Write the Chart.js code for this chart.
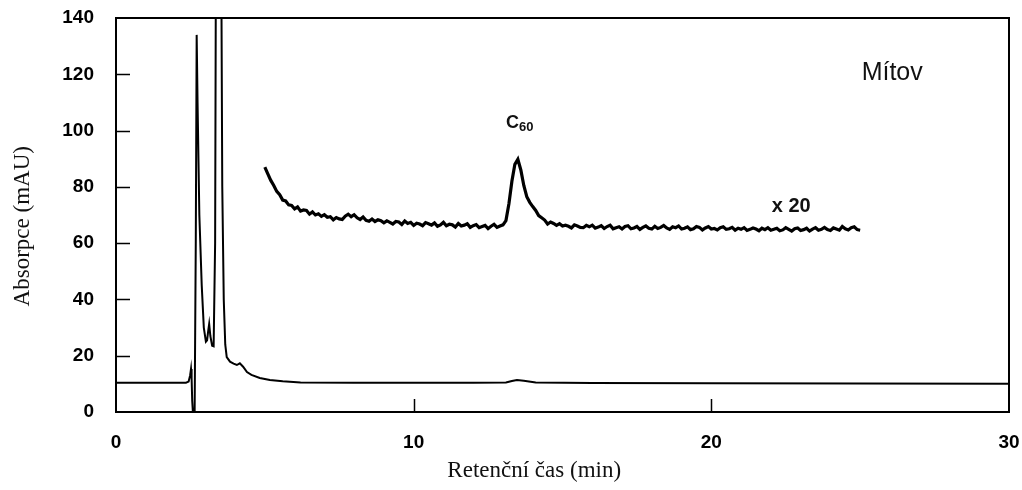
<!DOCTYPE html>
<html>
<head>
<meta charset="utf-8">
<script src="https://cdn.jsdelivr.net/npm/chart.js@4.4.1/dist/chart.umd.min.js"></script>
<style>
  html, body { margin: 0; padding: 0; background: #fff; }
  #wrap { width: 1022px; height: 490px; }
</style>
</head>
<body>
<div id="wrap"><canvas id="chart" width="1022" height="490"></canvas></div>
<script>
// Main chromatogram (absolute scale)
const mainTime = [0, 2.35, 2.44, 2.49, 2.52, 2.54, 2.56, 2.6, 2.64, 2.68, 2.71, 2.74, 2.8, 2.88, 2.95,
    3.02, 3.06, 3.1, 3.13, 3.17, 3.23, 3.28, 3.33, 3.38, 3.45, 3.52, 3.57, 3.62, 3.67, 3.72, 3.83,
    3.95, 4.06, 4.16, 4.27, 4.4, 4.55, 4.83, 5.17, 5.6, 6.2, 8, 10, 12, 13.1, 13.3, 13.47, 13.7,
    14.1, 16, 20, 25, 30];
const mainAbs = [10.4, 10.4, 10.8, 13, 15.3, 12, 4, -3, -3, 60, 134, 110, 70, 45, 30,
    25, 25.5, 29, 31.3, 27, 23.5, 23.3, 60, 250, 250, 200, 80, 40, 24, 19.5, 17.9,
    17.2, 16.7, 17.3, 16.1, 14.2, 13.2, 12.1, 11.4, 10.9, 10.5, 10.4, 10.4, 10.4, 10.5, 11.0, 11.4, 11.1,
    10.5, 10.3, 10.2, 10.1, 10.0];

// Zoomed trace (x 20), 5.0 .. 25.0 min every 0.1 min
const zoomStart = 5.0;
const zoomStep = 0.1;
const zoomAbs = [
    87, 84.6, 82.3, 80.5, 78.4, 77.2, 75.3, 75.0, 73.6, 73.4, 72.2,
    72.9, 71.4, 71.8, 71.6, 70.3, 71.1, 70.0, 70.4, 69.5, 70.1,
    69.2, 69.4, 68.3, 69.1, 68.6, 68.4, 69.6, 70.3, 69.4, 70.1,
    69.0, 68.4, 69.3, 68.1, 67.8, 68.6, 67.7, 68.3, 68.0, 67.2,
    67.9, 67.4, 66.8, 67.7, 67.5, 66.6, 67.9, 67.0, 67.4, 66.3,
    67.1, 66.8, 66.2, 67.3, 66.9, 66.4, 67.2, 66.0, 66.5, 67.4,
    66.2, 66.7, 66.5, 65.7, 67.0, 66.1, 66.4, 66.9, 65.6, 66.2,
    66.6, 65.5, 65.9, 66.3, 65.2, 66.0, 66.7, 65.6, 66.1, 66.5,
    68, 74, 82, 88, 89.8, 86, 80.5, 76.5, 74.5, 73,
    71.6, 69.8, 69.0, 68.2, 66.8, 67.5, 67.0, 66.3, 66.9, 66.1,
    66.4, 66.0, 65.4, 66.5, 66.1, 65.6, 65.5, 66.3, 65.8, 66.4,
    65.3, 65.7, 66.2, 65.2, 65.9, 66.4, 65.1, 65.5, 65.8, 65.0,
    65.9, 66.2, 65.1, 65.4, 65.9, 64.9, 65.6, 66.1, 65.3, 65.0,
    66.0, 65.2, 65.6, 66.3, 65.4, 64.9, 65.8, 65.5, 66.1, 65.0,
    65.3, 65.8, 64.8, 65.1, 65.9, 65.6, 64.7, 65.4, 65.9, 65.0,
    65.2, 64.7, 65.5, 65.8, 64.9, 65.1, 65.6, 64.6, 65.3, 64.9,
    65.5, 64.5, 64.9, 65.4, 65.0, 64.4, 65.3, 64.8, 65.5, 64.6,
    64.9, 65.3, 64.4, 64.7, 65.5, 64.9, 64.3, 65.1, 65.4, 64.5,
    64.8, 65.3, 64.3, 65.0, 65.5, 64.6, 64.9, 65.6, 64.8, 64.5,
    65.4, 65.0, 64.6, 65.9, 65.1, 64.7, 65.5, 65.8, 64.8, 64.6
];

const xTicks = [0, 10, 20, 30];
const yTicks = [0, 20, 40, 60, 80, 100, 120, 140];
const xTitle = "Retenční čas (min)";
const yTitle = "Absorpce (mAU)";

const mainPoints = mainTime.map((t, i) => ({ x: t, y: mainAbs[i] }));
const zoomPoints = zoomAbs.map((v, i) => ({ x: +(zoomStart + i * zoomStep).toFixed(2), y: v }));

// Frame, inward tick marks, axis titles and the text annotations
const decorPlugin = {
    id: 'decor',
    afterDraw(chart) {
        const { ctx, chartArea: { top, bottom, left, right }, scales: { x, y } } = chart;
        ctx.save();
        ctx.strokeStyle = '#000';
        ctx.lineWidth = 2;
        ctx.strokeRect(left, top, right - left, bottom - top);

        ctx.lineWidth = 1.5;
        ctx.beginPath();
        yTicks.slice(1, -1).forEach(v => {
            const py = Math.round(y.getPixelForValue(v)) + 0.5;
            ctx.moveTo(left, py);
            ctx.lineTo(left + 14, py);
        });
        xTicks.slice(1, -1).forEach(v => {
            const px = Math.round(x.getPixelForValue(v)) + 0.5;
            ctx.moveTo(px, bottom);
            ctx.lineTo(px, bottom - 13);
        });
        ctx.stroke();

        ctx.fillStyle = '#111';
        ctx.font = '23px "Liberation Serif", "Times New Roman", serif';
        ctx.textAlign = 'center';
        ctx.textBaseline = 'alphabetic';
        ctx.fillText(xTitle, x.getPixelForValue(14.05), 477);

        ctx.save();
        ctx.translate(29, y.getPixelForValue(66));
        ctx.rotate(-Math.PI / 2);
        ctx.fillText(yTitle, 0, 0);
        ctx.restore();

        ctx.textAlign = 'left';
        ctx.font = '25px "Liberation Sans", Arial, sans-serif';
        ctx.fillText('Mítov', x.getPixelForValue(25.05), y.getPixelForValue(117.8));

        ctx.font = 'bold 20px "Liberation Sans", Arial, sans-serif';
        ctx.fillText('x 20', x.getPixelForValue(22.03), y.getPixelForValue(71));

        ctx.font = 'bold 18px "Liberation Sans", Arial, sans-serif';
        const cx = x.getPixelForValue(13.1);
        const cy = y.getPixelForValue(101);
        ctx.fillText('C', cx, cy);
        const cw = ctx.measureText('C').width;
        ctx.font = 'bold 13px "Liberation Sans", Arial, sans-serif';
        ctx.fillText('60', cx + cw, cy + 3);
        ctx.restore();
    }
};

new Chart(document.getElementById('chart').getContext('2d'), {
    type: 'line',
    data: {
        datasets: [{
            label: 'signal',
            data: mainPoints,
            borderColor: '#000',
            borderWidth: 2,
            pointRadius: 0,
            tension: 0,
            fill: false
        }, {
            label: 'x 20',
            data: zoomPoints,
            borderColor: '#000',
            borderWidth: 3.2,
            pointRadius: 0,
            tension: 0,
            fill: false
        }]
    },
    options: {
        responsive: false,
        animation: false,
        events: [],
        layout: { padding: { left: 0, right: 13, top: 18, bottom: 0 } },
        plugins: {
            legend: { display: false },
            tooltip: { enabled: false }
        },
        scales: {
            x: {
                type: 'linear',
                min: 0,
                max: 30,
                afterFit: (scale) => {
                    scale.height = 78;
                    scale.paddingLeft = 0;
                    scale.paddingRight = 0;
                },
                afterBuildTicks: (scale) => { scale.ticks = xTicks.map(v => ({ value: v })); },
                grid: { display: false, drawTicks: false },
                border: { display: false },
                ticks: {
                    padding: 19,
                    color: '#000',
                    font: { family: '"Liberation Sans", Arial, sans-serif', size: 19, weight: 'bold' },
                    maxRotation: 0
                }
            },
            y: {
                type: 'linear',
                min: 0,
                max: 140,
                afterFit: (scale) => {
                    scale.width = 116;
                    scale.paddingTop = 0;
                    scale.paddingBottom = 0;
                },
                afterBuildTicks: (scale) => { scale.ticks = yTicks.map(v => ({ value: v })); },
                grid: { display: false, drawTicks: false },
                border: { display: false },
                ticks: {
                    padding: 22,
                    color: '#000',
                    font: { family: '"Liberation Sans", Arial, sans-serif', size: 19, weight: 'bold' }
                }
            }
        }
    },
    plugins: [decorPlugin]
});
</script>
</body>
</html>
